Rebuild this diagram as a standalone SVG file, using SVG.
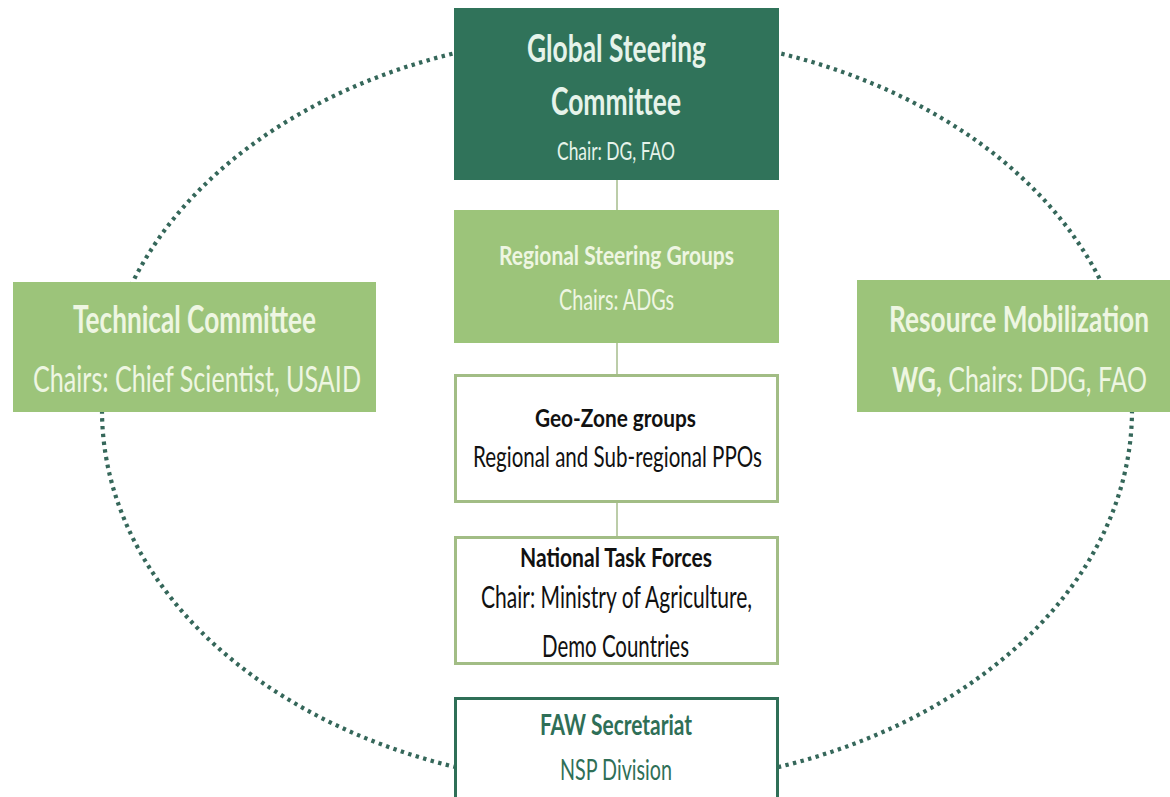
<svg xmlns="http://www.w3.org/2000/svg" width="1170" height="797" viewBox="0 0 1170 797">
  <style>
    text { font-family: Lato, "Open Sans", "Liberation Sans", sans-serif; }
    .b { font-weight: 700; }
    .pale { fill: #eef6e2; }
    .mint { fill: #e6f3ea; }
    .dark { fill: #111; }
    .teal { fill: #2f6f57; }
    .solid-dark { fill: #30735a; }
    .solid-light { fill: #9cc47a; }
    .outline-light { fill: #ffffff; stroke: #a2bd85; stroke-width: 3; }
    .outline-dark { fill: #ffffff; stroke: #2f6f57; stroke-width: 3; }
    .link { stroke: #a6bd8c; stroke-width: 1.5; fill: none; }
    .ring { fill: none; stroke: #35675a; stroke-width: 4.2; stroke-dasharray: 3.4 4.4; }
  </style>

  <rect width="1170" height="797" fill="#ffffff"/>

  <!-- dotted ring joining the committees -->
  <g id="ring">
    <ellipse class="ring" cx="617" cy="410" rx="515" ry="376"/>
  </g>

  <!-- vertical links down the central chain -->
  <g id="connectors">
    <line class="link" x1="617" y1="180" x2="617" y2="210"/>
    <line class="link" x1="617" y1="343" x2="617" y2="374"/>
    <line class="link" x1="617" y1="503" x2="617" y2="536"/>
  </g>

  <g id="global-steering">
    <rect class="solid-dark" x="454" y="8" width="325" height="172"/>
    <text class="b mint" x="527" y="62" font-size="38" textLength="179" lengthAdjust="spacingAndGlyphs">Global Steering</text>
    <text class="b mint" x="551" y="115" font-size="38" textLength="130" lengthAdjust="spacingAndGlyphs">Committee</text>
    <text class="mint" x="557" y="160" font-size="25" textLength="118" lengthAdjust="spacingAndGlyphs">Chair: DG, FAO</text>
  </g>

  <g id="regional-steering">
    <rect class="solid-light" x="454" y="210" width="325" height="133"/>
    <text class="b pale" x="499" y="265" font-size="26" textLength="235" lengthAdjust="spacingAndGlyphs">Regional Steering Groups</text>
    <text class="pale" x="559" y="310" font-size="29" textLength="115" lengthAdjust="spacingAndGlyphs">Chairs: ADGs</text>
  </g>

  <g id="geo-zone">
    <rect class="outline-light" x="455.5" y="375.5" width="322" height="126"/>
    <text class="b dark" x="535" y="427" font-size="25" textLength="161" lengthAdjust="spacingAndGlyphs">Geo-Zone groups</text>
    <text class="dark" x="473" y="467" font-size="29" textLength="289" lengthAdjust="spacingAndGlyphs">Regional and Sub-regional PPOs</text>
  </g>

  <g id="national-task-forces">
    <rect class="outline-light" x="455.5" y="537.5" width="322" height="126"/>
    <text class="b dark" x="520" y="567" font-size="27" textLength="192" lengthAdjust="spacingAndGlyphs">National Task Forces</text>
    <text class="dark" x="481" y="608" font-size="30" textLength="271" lengthAdjust="spacingAndGlyphs">Chair: Ministry of Agriculture,</text>
    <text class="dark" x="542" y="657" font-size="30" textLength="147" lengthAdjust="spacingAndGlyphs">Demo Countries</text>
  </g>

  <g id="faw-secretariat">
    <rect class="outline-dark" x="455.5" y="698.5" width="322" height="110"/>
    <text class="b teal" x="540" y="735" font-size="28" textLength="152" lengthAdjust="spacingAndGlyphs">FAW Secretariat</text>
    <text class="teal" x="560" y="780" font-size="28" textLength="112" lengthAdjust="spacingAndGlyphs">NSP Division</text>
  </g>

  <g id="technical-committee">
    <rect class="solid-light" x="13" y="282" width="363" height="130"/>
    <text class="b pale" x="73" y="333" font-size="38" textLength="243" lengthAdjust="spacingAndGlyphs">Technical Committee</text>
    <text class="pale" x="33" y="392" font-size="36" textLength="328" lengthAdjust="spacingAndGlyphs">Chairs: Chief Scientist, USAID</text>
  </g>

  <!-- the right box sits against the page edge, so its lines use a narrower
       base size stretched vertically to the same letter height -->
  <g id="resource-mobilization">
    <rect class="solid-light" x="857" y="280" width="313" height="132"/>
    <text class="b pale" transform="translate(889 332) scale(1 1.45)" font-size="25" textLength="260" lengthAdjust="spacingAndGlyphs">Resource Mobilization</text>
    <text class="pale" transform="translate(892 392) scale(1 1.4)" font-size="24.5" textLength="255" lengthAdjust="spacingAndGlyphs"><tspan class="b">WG,</tspan> Chairs: DDG, FAO</text>
  </g>
</svg>
